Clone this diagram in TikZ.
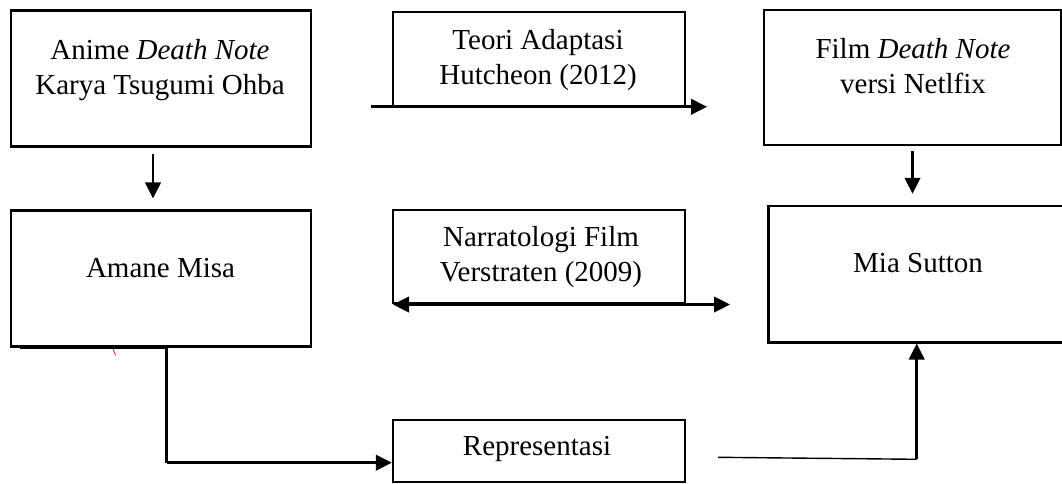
\documentclass[tikz,border=0pt]{standalone}
\usepackage{fontspec}
\setmainfont{Liberation Serif}
\usetikzlibrary{arrows.meta,calc}
\begin{document}
\begin{tikzpicture}[x=1pt,y=-1pt,
  boxthick/.style={draw=black,line width=2.5pt,inner sep=0pt,rectangle},
  boxthin/.style={draw=black,line width=1.8pt,inner sep=0pt,rectangle},
  txt/.style={inner sep=0pt,anchor=north,align=center,font=\fontsize{29}{35.5}\selectfont},
  conn/.style={line width=2.6pt,-{Triangle[length=16pt,width=15.5pt]}},
  dconn/.style={line width=2.6pt,{Triangle[length=16pt,width=15.5pt]}-{Triangle[length=16pt,width=15.5pt]}},
  plain/.style={line width=2.6pt},
  thinline/.style={line width=1.4pt}]
\useasboundingbox (0,0) rectangle (1062,484);
% boxes
\node[boxthick,minimum width=300pt,minimum height=136pt] (A) at (161,78.7) {};
\node[boxthin,minimum width=292.3pt,minimum height=94.3pt] (T) at (538.85,58.85) {};
\node[boxthick,minimum width=297pt,minimum height=135pt] (F) at (912.5,77.5) {};
\node[boxthick,minimum width=300pt,minimum height=136pt] (M) at (161,278.7) {};
\node[boxthin,minimum width=292.3pt,minimum height=93pt] (N) at (538.85,256.5) {};
\node[boxthick,minimum width=300pt,minimum height=136.3pt] (S) at (918.3,274.15) {};
\node[boxthin,minimum width=292.3pt,minimum height=62.3pt] (R) at (538.85,451.15) {};
% texts
\node[txt] (tA) at (160,37) {\rule{0pt}{22pt}Anime \textit{Death Note}\\Karya Tsugumi Ohba};
\node[txt] (tT) at (538,27) {\rule{0pt}{22pt}Teori Adaptasi\\Hutcheon (2012)};
\node[txt] (tF) at (913,36) {\rule{0pt}{22pt}Film \textit{Death Note}\\versi Netlfix};
\node[txt] (tM) at (160.5,255) {\rule{0pt}{22pt}Amane Misa};
\node[txt] (tN) at (541,224) {\rule{0pt}{22pt}Narratologi Film\\Verstraten (2009)};
\node[txt] (tS) at (918,250) {\rule{0pt}{22pt}Mia Sutton};
\node[txt] (tR) at (537,433) {\rule{0pt}{22pt}Representasi};
% free ends
\coordinate (ta1) at (371,106.8);
\coordinate (ta2) at (707,106.8);
\coordinate (na1) at (393,304.5);
\coordinate (na2) at (730,304.5);
\coordinate (m0) at (20,348);
\coordinate (mc) at (166.5,348);
\coordinate (rc) at (166.5,462.7);
\coordinate (r0) at (718,457.3);
\coordinate (sc) at (916.7,459.3);
% connectors
\draw[conn] ([xshift=-8pt,yshift=-6pt]A.south) -- ([xshift=-8pt,yshift=11pt]M.north);
\draw[conn] ([yshift=-5pt]F.south) -- ([yshift=11pt]F.south |- S.north);
\draw[conn] (ta1) -- (ta2);
\draw[dconn] (na1) -- (na2);
\draw[plain] (m0) -- (mc) -- (rc);
\draw[conn] (rc) -- (R.west |- rc);
\draw[thinline] (r0) -- (sc);
\draw[conn] (sc) -- (sc |- S.south);
% stray red mark
\draw[red,line width=0.8pt] (113,349) -- (115.5,355);
\end{tikzpicture}
\end{document}
